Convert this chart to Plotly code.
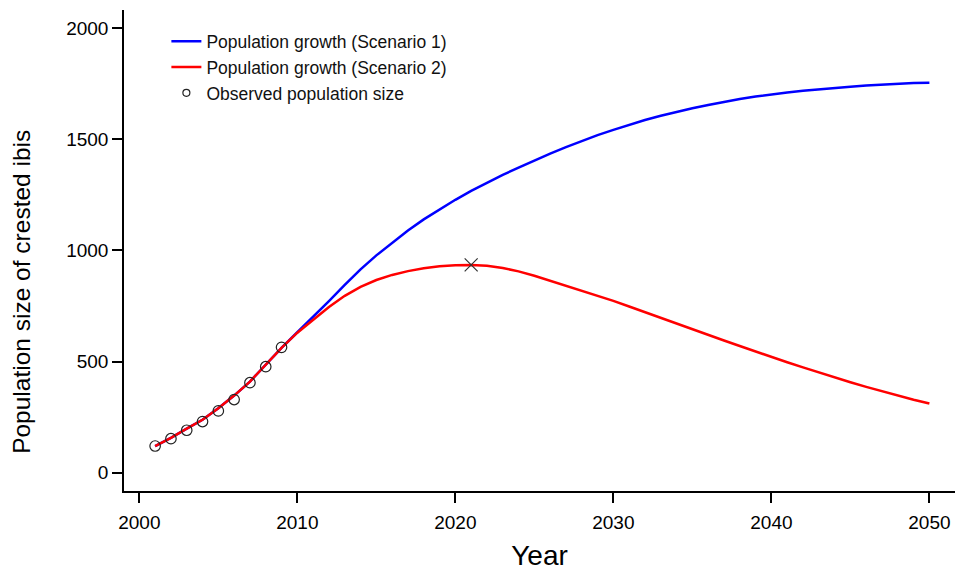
import plotly.graph_objects as go

# Model years and projected population sizes
years = list(range(2001, 2051))

scenario1 = [
    120, 157, 198, 238, 290, 347, 410, 488, 562, 632,
    700, 772, 845, 915, 978, 1036, 1090, 1140, 1185, 1228,
    1268, 1305, 1340, 1373, 1405, 1436, 1465, 1493, 1519, 1543,
    1566, 1587, 1606, 1624, 1640, 1655, 1669, 1682, 1693, 1703,
    1711, 1719, 1726, 1732, 1737, 1742, 1747, 1751, 1754, 1755,
]

scenario2 = [
    120, 157, 198, 238, 290, 347, 410, 488, 562, 630,
    688, 746, 796, 836, 867, 890, 907, 920, 929, 934,
    935, 931, 921, 906, 886, 864, 842, 819, 796, 773,
    748, 722, 697, 672, 647, 621, 595, 570, 545, 521,
    497, 474, 451, 429, 407, 386, 366, 346, 328, 311,
]

# Observed census counts
obs_years = [2001, 2002, 2003, 2004, 2005, 2006, 2007, 2008, 2009]
obs_values = [120, 153, 191, 230, 278, 329, 405, 477, 564]

# Peak of scenario 2
peak_year = [2021]
peak_value = [935]

x_ticks = [2000, 2010, 2020, 2030, 2040, 2050]
y_ticks = [0, 500, 1000, 1500, 2000]

FONT = "Liberation Sans, Arial, sans-serif"

fig = go.Figure()

fig.add_trace(go.Scatter(
    x=years, y=scenario1, mode="lines",
    name="Population growth (Scenario 1)",
    line=dict(color="#0000FF", width=2.5),
))
fig.add_trace(go.Scatter(
    x=years, y=scenario2, mode="lines",
    name="Population growth (Scenario 2)",
    line=dict(color="#FF0000", width=2.5),
))
fig.add_trace(go.Scatter(
    x=obs_years, y=obs_values, mode="markers",
    name="Observed population size",
    marker=dict(symbol="circle-open", size=10.5, color="#222222",
                line=dict(width=1.2, color="#222222")),
    showlegend=False,
))
# legend entry with a smaller symbol
fig.add_trace(go.Scatter(
    x=[None], y=[None], mode="markers",
    name="Observed population size",
    marker=dict(symbol="circle-open", size=7, color="#222222",
                line=dict(width=1.2, color="#222222")),
))
fig.add_trace(go.Scatter(
    x=peak_year, y=peak_value, mode="markers",
    marker=dict(symbol="x-thin-open", size=13, color="#333333",
                line=dict(width=1.2, color="#333333")),
    showlegend=False,
))

fig.update_layout(
    width=955, height=571,
    margin=dict(l=124, r=0, t=10, b=80),
    paper_bgcolor="white", plot_bgcolor="white",
    font=dict(family=FONT, color="black"),
    showlegend=True,
    legend=dict(
        x=0.051, y=0.972, xanchor="left", yanchor="top",
        bgcolor="rgba(0,0,0,0)", borderwidth=0,
        font=dict(size=17.5, family=FONT, color="#111111"),
    ),
    annotations=[dict(
        text="Population size of crested ibis",
        xref="paper", yref="paper",
        x=-124 / 831 + 22 / 831, y=0.414,
        xanchor="center", yanchor="middle",
        textangle=-90, showarrow=False,
        font=dict(size=24.5, family=FONT, color="black"),
    )],
)

fig.update_xaxes(
    range=[1999.03, 2051.62],
    tickvals=x_ticks, ticktext=[str(v) for v in x_ticks],
    showline=True, linecolor="black", linewidth=1.5, mirror=False,
    ticks="outside", ticklen=10, tickwidth=1.5, tickcolor="black",
    showgrid=False, zeroline=False,
    tickfont=dict(size=19, family=FONT, color="black"),
    ticklabelstandoff=3,
    title=dict(text="Year", font=dict(size=28, family=FONT, color="black"), standoff=14),
)
fig.update_yaxes(
    range=[-82.4, 2082.2],
    tickvals=y_ticks, ticktext=[str(v) for v in y_ticks],
    showline=True, linecolor="black", linewidth=1.5, mirror=False,
    ticks="outside", ticklen=10, tickwidth=1.5, tickcolor="black",
    showgrid=False, zeroline=False,
    tickfont=dict(size=19, family=FONT, color="black"),
)

fig.write_html("out.html")
